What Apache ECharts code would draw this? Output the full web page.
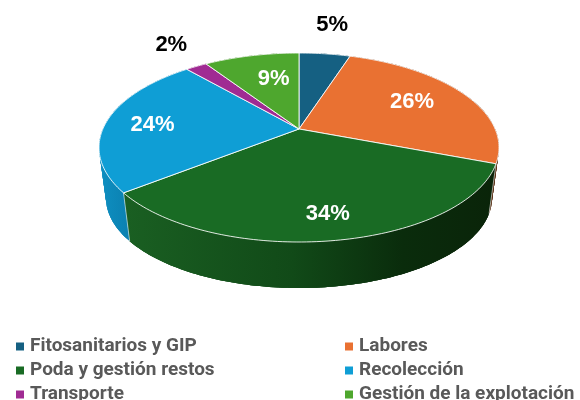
<!DOCTYPE html>
<html lang="es">
<head>
<meta charset="UTF-8">
<script src="https://cdn.jsdelivr.net/npm/echarts@6/dist/echarts.min.js"></script>
<style>
    * { margin: 0; padding: 0; }
    html, body { background: #fff; }
    #main { width: 580px; height: 400px; }
</style>
</head>
<body>
<div id="main"></div>
<script>
    var categories = ['Fitosanitarios y GIP', 'Labores', 'Poda y gestión restos', 'Recolección', 'Transporte', 'Gestión de la explotación'];
    var values = [5.0, 25.8, 33.6, 24.2, 2.1, 9.3];
    var colors = ['#156082', '#E97132', '#196B24', '#0F9ED5', '#A02B93', '#4EA72E'];

    // pie geometry: tilted disc, apex sits above the ellipse centre (perspective)
    var topDisc = { cx: 299, cy: 147.5, rx: 200, ry: 94.5 };
    var baseDisc = { cx: 299, cy: 198, rx: 193, ry: 90 };
    var tilt = 0.196;

    // nudges for the labels, excel placed them by hand-ish
    var labelR = [0.75, 0.72, 0.75, 0.75, 0.75, 0.62];
    var labelShift = [[13, -45], [-7, 0], [3, 6], [-2, 2], [-48, -35], [6, -2]];
    var labelDark = [true, false, false, false, true, false];

    var total = values.reduce(function (a, b) { return a + b; }, 0);
    var starts = [];
    var run = 0;
    for (var i = 0; i < values.length; i++) {
        starts.push(run / total * Math.PI * 2);
        run += values[i];
    }

    function project(disc, ang, r) {
        var u = Math.sin(ang) * r;
        var v = Math.cos(ang) * r;
        var d = 1 + tilt * v;
        var x = u * Math.sqrt(1 - tilt * tilt) / d;
        var y = (v + tilt) / d;
        return [disc.cx + x * disc.rx, disc.cy - y * disc.ry];
    }

    function arc(disc, a0, a1) {
        var n = Math.max(2, Math.ceil((a1 - a0) / 0.02));
        var pts = [];
        for (var k = 0; k <= n; k++) {
            pts.push(project(disc, a0 + (a1 - a0) * k / n, 1));
        }
        return pts;
    }

    function sliceEnd(i) {
        return starts[i] + values[i] / total * Math.PI * 2;
    }

    var wallFills = [
        '#0f4a65',
        '#5a3318',
        new echarts.graphic.LinearGradient(125, 0, 496, 0, [
            { offset: 0, color: '#1a5f22' },
            { offset: 0.45, color: '#114a18' },
            { offset: 0.75, color: '#0a2c0c' },
            { offset: 1, color: '#0a2409' }
        ], true),
        new echarts.graphic.LinearGradient(100, 0, 130, 0, [
            { offset: 0, color: '#0e8fc1' },
            { offset: 1, color: '#0b80b0' }
        ], true),
        '#7a2070',
        '#3a7d22'
    ];

    // wall is drawn strip by strip so the silhouette between both discs gets filled,
    // strips overlap the next one to avoid seams
    function renderWall(params) {
        var i = params.dataIndex;
        var top = arc(topDisc, starts[i], sliceEnd(i));
        var base = arc(baseDisc, starts[i], sliceEnd(i));
        var strips = [];
        for (var k = 0; k < top.length - 1; k++) {
            var e = Math.min(k + 3, top.length - 1);
            strips.push({
                type: 'polygon',
                shape: { points: top.slice(k, e + 1).concat(base.slice(k, e + 1).reverse()) },
                style: { fill: wallFills[i] }
            });
        }
        strips.push({
            type: 'line',
            shape: { x1: top[0][0], y1: top[0][1], x2: base[0][0], y2: base[0][1] },
            style: { stroke: 'rgba(255,255,255,0.7)', lineWidth: 0.8 }
        });
        return { type: 'group', children: strips };
    }

    function renderFace(i) {
        var mid = (starts[i] + sliceEnd(i)) / 2;
        var pos = project(topDisc, mid, labelR[i]);
        var apex = project(topDisc, 0, 0);
        return {
            type: 'group',
            children: [{
                type: 'polygon',
                shape: { points: [apex].concat(arc(topDisc, starts[i], sliceEnd(i))) },
                style: { fill: colors[i], stroke: 'rgba(255,255,255,0.85)', lineWidth: 1, lineJoin: 'round' }
            }, {
                type: 'text',
                z2: 10,
                style: {
                    x: pos[0] + labelShift[i][0],
                    y: pos[1] + labelShift[i][1],
                    text: Math.round(values[i] / total * 100) + '%',
                    fill: labelDark[i] ? '#000' : '#fff',
                    font: 'bold 22px "Liberation Sans"',
                    textAlign: 'center',
                    textVerticalAlign: 'middle'
                }
            }]
        };
    }

    var series = [{
        type: 'custom',
        coordinateSystem: 'none',
        silent: true,
        z: 1,
        data: values,
        renderItem: renderWall
    }];
    categories.forEach(function (name, i) {
        series.push({
            type: 'custom',
            name: name,
            coordinateSystem: 'none',
            silent: true,
            z: 2,
            itemStyle: { color: colors[i] },
            data: [values[i]],
            renderItem: function () { return renderFace(i); }
        });
    });

    function legendCol(names, left) {
        return {
            orient: 'vertical',
            left: left,
            top: 337,
            height: 120,
            padding: 0,
            data: names,
            icon: 'rect',
            itemWidth: 8,
            itemHeight: 8,
            itemGap: 5,
            selectedMode: false,
            textStyle: {
                color: '#595959',
                fontFamily: 'Roboto',
                fontWeight: 'bold',
                fontSize: 19,
                lineHeight: 17,
                padding: [0, 0, 0, 1]
            }
        };
    }

    var myChart = echarts.init(document.getElementById('main'));
    myChart.setOption({
        animation: false,
        legend: [
            legendCol([categories[0], categories[2], categories[4]], 16),
            legendCol([categories[1], categories[3], categories[5]], 345)
        ],
        series: series
    });
</script>
</body>
</html>
